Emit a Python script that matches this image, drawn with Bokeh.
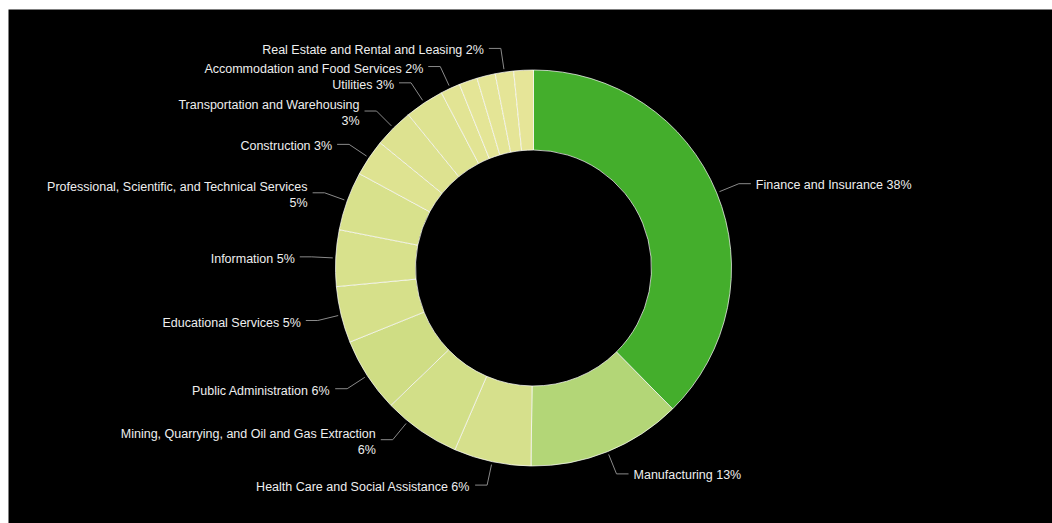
import math
from bokeh.plotting import figure
from bokeh.models import Range1d, ColumnDataSource
from bokeh.embed import file_html
from bokeh.resources import INLINE
from bokeh.core.properties import value

# ---- data (clockwise from 12 o'clock) ----
categories = [
    "Finance and Insurance",
    "Manufacturing",
    "Health Care and Social Assistance",
    "Mining, Quarrying, and Oil and Gas Extraction",
    "Public Administration",
    "Educational Services",
    "Information",
    "Professional, Scientific, and Technical Services",
    "Construction",
    "Transportation and Warehousing",
    "Utilities",
    "Accommodation and Food Services",
    "Wholesale Trade",
    "Retail Trade",
    "Real Estate and Rental and Leasing",
    "Other Services",
]
values = [37.6, 12.6, 6.3, 6.3, 6.1, 4.6, 4.6, 4.8, 3.0, 3.2, 3.2, 1.6, 1.5, 1.5, 1.5, 1.6]
show_label = [True, True, True, True, True, True, True, True, True, True, True, True,
              False, False, True, False]
wrap_label = [False, False, False, True, False, False, False, True, False, True, False, False,
              False, False, False, False]
colors = ["#44AE2C", "#B3D677", "#D6E08C", "#D2DF88", "#CFDD84", "#D6E08A", "#D8E18C",
          "#D8E18C", "#DEE391", "#DDE290", "#DEE391", "#E2E494", "#E4E596", "#E4E596",
          "#E5E597", "#E6E598"]

# ---- layout (data units == screen pixels) ----
PAGE_W, PAGE_H = 1052, 523
MARGIN_L, MARGIN_T = 8, 9
CX, CY = 533, PAGE_H - 267.5
R_IN, R_OUT = 118, 198
R_LINE0, R_LINE1, LEN2, GAP = 201, 222, 12, 5
# label layout nudges (degrees, clockwise) where the original layout moved a label
LABEL_NUDGE = {"Mining, Quarrying, and Oil and Gas Extraction": 4.6}

p = figure(width=PAGE_W, height=PAGE_H,
           x_range=Range1d(MARGIN_L, PAGE_W), y_range=Range1d(0, PAGE_H - MARGIN_T),
           output_backend="svg", toolbar_location=None,
           min_border_left=MARGIN_L, min_border_top=MARGIN_T,
           min_border_right=0, min_border_bottom=0,
           background_fill_color="black", border_fill_color="white",
           outline_line_color=None)
p.axis.visible = False
p.grid.visible = False

total = float(sum(values))
starts, ends, mids = [], [], []
c = 0.0
for v in values:
    f0 = c / total
    c += v
    f1 = c / total
    starts.append(math.pi / 2 - 2 * math.pi * f0)
    ends.append(math.pi / 2 - 2 * math.pi * f1)
    mids.append((f0 + f1) / 2)

src = ColumnDataSource(dict(start=starts, end=ends, color=colors))
p.annular_wedge(x=CX, y=CY, inner_radius=R_IN, outer_radius=R_OUT,
                start_angle="start", end_angle="end", direction="clock",
                fill_color="color", line_color="white", line_width=1, line_alpha=0.7,
                source=src)

lx, ly, tx, ty, tt = [], [], [], [], []
tx_l, ty_l, tt_l = [], [], []
for name, v, m, show, wr in zip(categories, values, mids, show_label, wrap_label):
    if not show:
        continue
    th = 2 * math.pi * m + math.radians(LABEL_NUDGE.get(name, 0.0))
    s, co = math.sin(th), math.cos(th)
    x0, y0 = CX + R_LINE0 * s, CY + R_LINE0 * co
    x1, y1 = CX + R_LINE1 * s, CY + R_LINE1 * co
    side = 1 if s > 0 else -1
    x2 = x1 + side * LEN2
    lx.append([x0, x1, x2])
    ly.append([y0, y1, y1])
    pct = int(100 * v / total + 0.5)
    label = f"{name}\n{pct}%" if wr else f"{name} {pct}%"
    if side > 0:
        tx_l.append(x2 + GAP); ty_l.append(y1); tt_l.append(label)
    else:
        tx.append(x2 - GAP); ty.append(y1); tt.append(label)

p.multi_line(xs=lx, ys=ly, line_color="#8a8a8a", line_width=1)
p.text(x=tx, y=ty, text=tt, text_align="right", text_baseline="middle", y_offset=2,
       text_font=value("Liberation Sans"), text_font_size="12.5px",
       text_color="#eeeeee", text_line_height=1.15)
p.text(x=tx_l, y=ty_l, text=tt_l, text_align="left", text_baseline="middle", y_offset=1,
       text_font=value("Liberation Sans"), text_font_size="12.5px",
       text_color="#eeeeee", text_line_height=1.15)

open("out.html", "w").write(file_html(p, INLINE))
